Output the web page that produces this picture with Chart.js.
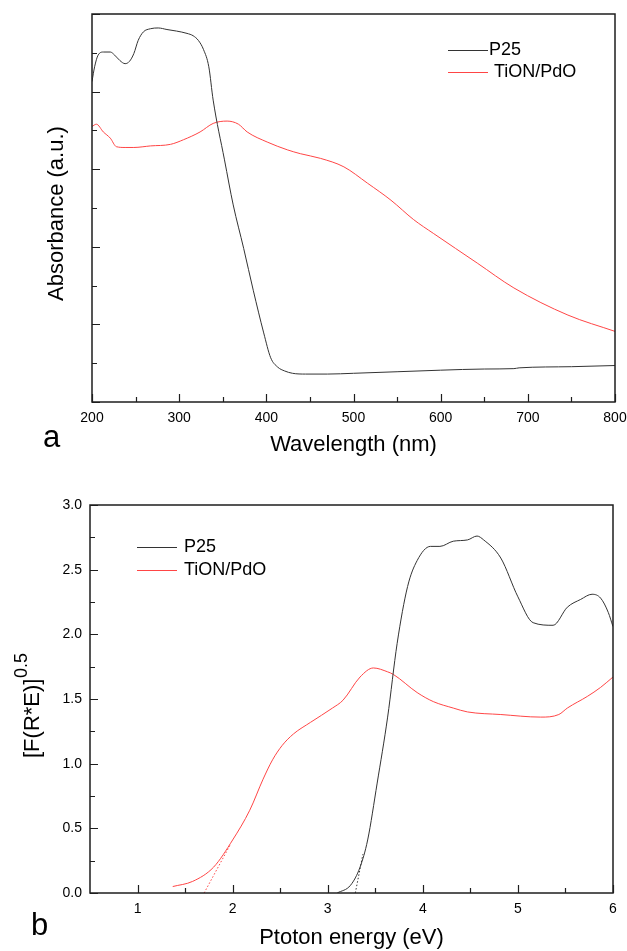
<!DOCTYPE html>
<html>
<head>
<meta charset="utf-8">
<title>Absorbance / Tauc plot</title>
<script src="https://cdn.jsdelivr.net/npm/chart.js@4.4.1/dist/chart.umd.min.js"></script>
<style>
    html, body { margin: 0; padding: 0; background: #fff; }
    #page { position: relative; width: 627px; height: 951px; font-family: 'Liberation Sans', Arial, sans-serif; }
    canvas { position: absolute; left: 0; }
    #chartA { top: 0; }
    #chartB { top: 470px; }
    .panel { position: absolute; font-size: 31px; line-height: 1; color: #000; }
</style>
</head>
<body>
<div id="page">
    <canvas id="chartA" width="627" height="470"></canvas>
    <canvas id="chartB" width="627" height="481"></canvas>
    <div class="panel" style="left:43px; top:421px;">a</div>
    <div class="panel" style="left:31px; top:909px;">b</div>
</div>

<script>
// --- DATA ---
const seriesNames = ['P25', 'TiON/PdO'];

// (a) absorbance vs wavelength
const p25Wl  = [200, 203, 207, 213, 221, 226, 232, 238, 243, 248, 253, 259, 267, 276, 286, 297, 309, 316, 322, 328, 334, 339, 352, 362, 374, 385, 397, 405, 413, 421, 430, 445, 470, 500, 550, 600, 650, 684, 690, 750, 800];
const p25Abs = [4.13, 4.32, 4.47, 4.51, 4.51, 4.47, 4.40, 4.36, 4.39, 4.49, 4.66, 4.77, 4.81, 4.82, 4.80, 4.78, 4.75, 4.72, 4.66, 4.54, 4.32, 3.89, 3.12, 2.54, 1.98, 1.44, 0.89, 0.57, 0.45, 0.40, 0.37, 0.36, 0.36, 0.37, 0.39, 0.41, 0.425, 0.43, 0.44, 0.455, 0.47];
const tionWl  = [200, 205, 213, 221, 228, 238, 248, 267, 290, 305, 324, 339, 355, 368, 378, 401, 424, 439, 462, 489, 516, 543, 569, 592, 642, 684, 746, 800];
const tionAbs = [3.55, 3.58, 3.48, 3.40, 3.29, 3.28, 3.28, 3.30, 3.32, 3.38, 3.48, 3.59, 3.62, 3.58, 3.48, 3.35, 3.25, 3.20, 3.14, 3.03, 2.82, 2.60, 2.35, 2.17, 1.79, 1.47, 1.12, 0.91];
const xTicksA = [200, 300, 400, 500, 600, 700, 800];
const yTicksA = [0, 1, 2, 3, 4, 5];

// (b) [F(R*E)]^0.5 vs photon energy
const p25Ev  = [3.10, 3.24, 3.34, 3.42, 3.52, 3.63, 3.73, 3.84, 3.94, 4.08, 4.18, 4.32, 4.47, 4.57, 4.64, 4.82, 5.00, 5.16, 5.37, 5.52, 5.66, 5.78, 5.87, 5.95, 6.00];
const p25Km  = [0.00, 0.06, 0.20, 0.41, 0.85, 1.36, 1.93, 2.37, 2.57, 2.68, 2.68, 2.72, 2.73, 2.76, 2.73, 2.59, 2.29, 2.09, 2.07, 2.21, 2.27, 2.31, 2.28, 2.17, 2.06];
const tionEv = [1.37, 1.58, 1.80, 2.00, 2.18, 2.32, 2.42, 2.52, 2.64, 2.82, 3.05, 3.16, 3.34, 3.48, 3.63, 3.69, 3.94, 4.11, 4.32, 4.47, 4.82, 5.24, 5.43, 5.52, 5.73, 5.87, 6.00];
const tionKm = [0.05, 0.09, 0.20, 0.41, 0.64, 0.88, 1.03, 1.14, 1.23, 1.32, 1.43, 1.49, 1.67, 1.74, 1.71, 1.69, 1.55, 1.48, 1.43, 1.40, 1.38, 1.36, 1.38, 1.43, 1.52, 1.59, 1.67];
// band gap tangents (dotted)
const p25FitEv  = [3.29, 3.37];
const p25FitKm  = [0.00, 0.30];
const tionFitEv = [1.70, 1.98];
const tionFitKm = [0.00, 0.38];
const xTicksB = [1, 2, 3, 4, 5, 6];
const yTicksB = [0, 0.5, 1, 1.5, 2, 2.5, 3];

// --- STYLE ---
const FONT = "'Liberation Sans', Arial, sans-serif";
const BLACK = '#333333';
const RED = '#ff4545';

Chart.defaults.font.family = FONT;
Chart.defaults.color = '#000';
Chart.defaults.animation = false;

function pts(xs, ys) {
    return xs.map((x, i) => ({ x: x, y: ys[i] }));
}

function useTicks(values) {
    return scale => { scale.ticks = values.map(v => ({ value: v })); };
}

// fixed axis box, and no label overhang pushing the plot area in
function fixSize(prop, px) {
    return scale => {
        scale[prop] = px;
        scale.paddingLeft = 0;
        scale.paddingRight = 0;
        scale.paddingTop = 0;
        scale.paddingBottom = 0;
    };
}

function curve(label, xs, ys, color) {
    return {
        label: label,
        data: pts(xs, ys),
        borderColor: color,
        borderWidth: 1,
        pointRadius: 0,
        cubicInterpolationMode: 'monotone',
        fill: false
    };
}

function tangent(xs, ys, color) {
    return {
        label: '',
        data: pts(xs, ys),
        borderColor: color,
        borderWidth: 1,
        borderDash: [1.5, 2],
        pointRadius: 0,
        fill: false
    };
}

// --- PLUGINS ---
// box frame + inward major/minor ticks
const frameTicks = {
    id: 'frameTicks',
    afterDatasetsDraw(chart) {
        const { ctx, chartArea: a } = chart;
        const sx = chart.scales.x, sy = chart.scales.y;
        const mids = t => t.slice(1).map((v, i) => (v.value + t[i].value) / 2);

        ctx.save();
        ctx.strokeStyle = '#1e1e1e';
        ctx.lineWidth = 1.2;
        ctx.beginPath();
        sx.ticks.forEach(t => {
            const p = Math.round(sx.getPixelForValue(t.value)) + 0.5;
            ctx.moveTo(p, a.bottom); ctx.lineTo(p, a.bottom - 8);
        });
        mids(sx.ticks).forEach(v => {
            const p = Math.round(sx.getPixelForValue(v)) + 0.5;
            ctx.moveTo(p, a.bottom); ctx.lineTo(p, a.bottom - 5);
        });
        sy.ticks.forEach(t => {
            const p = Math.round(sy.getPixelForValue(t.value)) + 0.5;
            ctx.moveTo(a.left, p); ctx.lineTo(a.left + 8, p);
        });
        mids(sy.ticks).forEach(v => {
            const p = Math.round(sy.getPixelForValue(v)) + 0.5;
            ctx.moveTo(a.left, p); ctx.lineTo(a.left + 5, p);
        });
        ctx.stroke();

        ctx.lineWidth = 1.5;
        ctx.strokeRect(a.left, a.top, a.right - a.left, a.bottom - a.top);
        ctx.restore();
    }
};

// legend inside the plot
const boxLegend = {
    id: 'boxLegend',
    afterDatasetsDraw(chart, args, o) {
        const ctx = chart.ctx;
        ctx.save();
        ctx.font = '18px ' + FONT;
        ctx.textBaseline = 'middle';
        o.rows.forEach((y, i) => {
            const ds = chart.data.datasets[i];
            ctx.strokeStyle = ds.borderColor;
            ctx.lineWidth = 1;
            ctx.beginPath();
            ctx.moveTo(o.x0, y + 0.5); ctx.lineTo(o.x1, y + 0.5);
            ctx.stroke();
            ctx.fillStyle = '#000';
            ctx.fillText(ds.label, o.textX[i], y);
        });
        ctx.restore();
    }
};

// rotated y title, with optional superscript
const yTitle = {
    id: 'yTitle',
    afterDraw(chart, args, o) {
        const ctx = chart.ctx;
        ctx.save();
        ctx.translate(o.x, o.y);
        ctx.rotate(-Math.PI / 2);
        ctx.fillStyle = '#000';
        ctx.textBaseline = 'alphabetic';
        ctx.font = '22px ' + FONT;
        ctx.fillText(o.text, 0, 0);
        if (o.sup) {
            const w = ctx.measureText(o.text).width;
            ctx.font = '18px ' + FONT;
            ctx.fillText(o.sup, w + 0.5, -o.raise);
        }
        ctx.restore();
    }
};

// --- CHART A ---
new Chart(document.getElementById('chartA'), {
    type: 'line',
    data: {
        datasets: [
            curve(seriesNames[0], p25Wl, p25Abs, BLACK),
            curve(seriesNames[1], tionWl, tionAbs, RED)
        ]
    },
    options: {
        responsive: false,
        layout: { padding: { top: 14, right: 12, bottom: 0, left: 0 } },
        scales: {
            x: {
                type: 'linear', min: 200, max: 800,
                afterBuildTicks: useTicks(xTicksA),
                afterFit: fixSize('height', 68),
                grid: { display: false, drawTicks: false },
                border: { display: false },
                ticks: { font: { size: 14 }, padding: 8, maxRotation: 0 },
                title: { display: true, text: 'Wavelength (nm)', font: { size: 22 }, padding: { top: 0, bottom: 12 } }
            },
            y: {
                min: 0, max: 5,
                afterBuildTicks: useTicks(yTicksA),
                afterFit: fixSize('width', 92),
                grid: { display: false, drawTicks: false },
                border: { display: false },
                ticks: { display: false }
            }
        },
        plugins: {
            legend: { display: false },
            tooltip: { enabled: false },
            boxLegend: { x0: 448, x1: 488, rows: [50, 72], textX: [489, 494] },
            yTitle: { text: 'Absorbance (a.u.)', x: 63, y: 301 }
        }
    },
    plugins: [frameTicks, boxLegend, yTitle]
});

// --- CHART B ---
new Chart(document.getElementById('chartB'), {
    type: 'line',
    data: {
        datasets: [
            curve(seriesNames[0], p25Ev, p25Km, BLACK),
            curve(seriesNames[1], tionEv, tionKm, RED),
            tangent(p25FitEv, p25FitKm, BLACK),
            tangent(tionFitEv, tionFitKm, RED)
        ]
    },
    options: {
        responsive: false,
        layout: { padding: { top: 35, right: 14, bottom: 0, left: 0 } },
        scales: {
            x: {
                type: 'linear', min: 0.5, max: 6,
                afterBuildTicks: useTicks(xTicksB),
                afterFit: fixSize('height', 58),
                grid: { display: false, drawTicks: false },
                border: { display: false },
                ticks: { font: { size: 14 }, padding: 8, maxRotation: 0 },
                title: { display: true, text: 'Ptoton energy (eV)', font: { size: 22 }, padding: { top: 0, bottom: 0 } }
            },
            y: {
                min: 0, max: 3,
                afterBuildTicks: useTicks(yTicksB),
                afterFit: fixSize('width', 90),
                grid: { display: false, drawTicks: false },
                border: { display: false },
                ticks: { font: { size: 14 }, padding: 8, callback: v => v.toFixed(1) }
            }
        },
        plugins: {
            legend: { display: false },
            tooltip: { enabled: false },
            boxLegend: { x0: 137, x1: 177, rows: [77, 100], textX: [184, 184] },
            yTitle: { text: '[F(R*E)]', sup: '0.5', raise: 12, x: 39, y: 288 }
        }
    },
    plugins: [frameTicks, boxLegend, yTitle]
});
</script>
</body>
</html>
